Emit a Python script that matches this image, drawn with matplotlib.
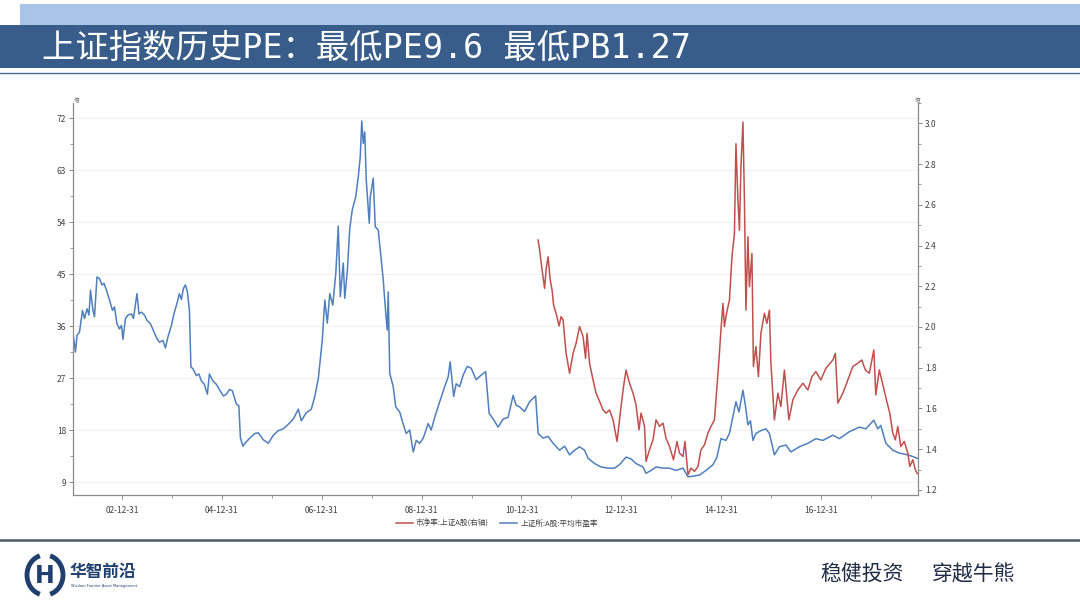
import matplotlib
matplotlib.use('Agg')
import matplotlib.pyplot as plt
import matplotlib.dates as mdates
from matplotlib.patches import Rectangle, Arc
from matplotlib.ticker import MultipleLocator
import pandas as pd

plt.rcParams['font.family'] = ['Noto Sans CJK SC', 'DejaVu Sans']

# 上证所:A股:平均市盈率 (左轴), 时间用小数年
pe_t = [2002.03, 2002.07, 2002.10, 2002.15, 2002.21, 2002.25, 2002.30, 2002.34, 2002.37, 2002.42,
        2002.45, 2002.50, 2002.55, 2002.60, 2002.64, 2002.69, 2002.75, 2002.81, 2002.85, 2002.90,
        2002.95, 2002.99, 2003.02, 2003.07, 2003.12, 2003.19, 2003.23, 2003.30, 2003.34, 2003.39,
        2003.45, 2003.50, 2003.57, 2003.63, 2003.70, 2003.75, 2003.82, 2003.87, 2003.92, 2003.99,
        2004.04, 2004.10, 2004.15, 2004.19, 2004.23, 2004.27, 2004.31, 2004.35, 2004.38, 2004.42,
        2004.49, 2004.54, 2004.59, 2004.65, 2004.71, 2004.75, 2004.82, 2004.89, 2004.95, 2005.03,
        2005.09, 2005.15, 2005.21, 2005.25, 2005.29, 2005.34, 2005.37, 2005.42, 2005.46, 2005.56,
        2005.66, 2005.73, 2005.83, 2005.93, 2006.03, 2006.13, 2006.23, 2006.33, 2006.43, 2006.53,
        2006.59, 2006.69, 2006.79, 2006.86, 2006.93, 2007.01, 2007.06, 2007.11, 2007.16, 2007.22,
        2007.28, 2007.33, 2007.37, 2007.43, 2007.46, 2007.51, 2007.56, 2007.61, 2007.68, 2007.73,
        2007.77, 2007.80, 2007.83, 2007.86, 2007.89, 2007.95, 2007.97, 2008.03, 2008.07, 2008.13,
        2008.17, 2008.23, 2008.28, 2008.31, 2008.33, 2008.36, 2008.43, 2008.48, 2008.56, 2008.63,
        2008.69, 2008.76, 2008.83, 2008.89, 2008.96, 2009.03, 2009.13, 2009.19, 2009.26, 2009.36,
        2009.46, 2009.53, 2009.57, 2009.64, 2009.69, 2009.76, 2009.83, 2009.91, 2009.99, 2010.09,
        2010.19, 2010.28, 2010.35, 2010.43, 2010.53, 2010.63, 2010.73, 2010.83, 2010.89, 2010.96,
        2011.06, 2011.16, 2011.28, 2011.33, 2011.43, 2011.53, 2011.63, 2011.76, 2011.86, 2011.96,
        2012.06, 2012.16, 2012.26, 2012.33, 2012.46, 2012.59, 2012.73, 2012.86, 2012.96, 2013.09,
        2013.19, 2013.29, 2013.43, 2013.49, 2013.59, 2013.69, 2013.83, 2013.96, 2014.09, 2014.23,
        2014.33, 2014.43, 2014.56, 2014.69, 2014.83, 2014.91, 2014.99, 2015.09, 2015.16, 2015.29,
        2015.35, 2015.43, 2015.48, 2015.53, 2015.58, 2015.63, 2015.69, 2015.79, 2015.89, 2015.96,
        2016.06, 2016.16, 2016.29, 2016.39, 2016.56, 2016.73, 2016.89, 2017.03, 2017.23, 2017.36,
        2017.56, 2017.76, 2017.89, 2018.05, 2018.13, 2018.19, 2018.29, 2018.43, 2018.56, 2018.73,
        2018.83, 2018.92]
pe_v = [34.1, 31.5, 34.4, 34.95, 38.7, 37.3, 39.0, 37.9, 42.2, 38.7,
        37.6, 44.5, 44.2, 43.1, 43.4, 42.2, 40.5, 38.7, 39.3, 36.4,
        35.5, 36.1, 33.7, 37.3, 37.9, 38.1, 37.3, 41.6, 38.1, 38.4,
        37.9, 37.0, 36.4, 35.2, 33.8, 33.2, 33.5, 32.2, 34.1, 36.1,
        38.1, 39.9, 41.6, 40.6, 42.5, 43.1, 41.9, 38.7, 28.9, 28.6,
        27.4, 27.7, 26.5, 25.9, 24.2, 27.7, 26.5, 25.9, 25.0, 23.9,
        24.2, 25.0, 24.8, 23.6, 22.5, 22.2, 16.7, 15.2, 15.7, 16.6,
        17.4, 17.5, 16.3, 15.7, 17.1, 17.9, 18.2, 19.0, 19.9, 21.6,
        19.6, 21.0, 21.6, 23.8, 26.9, 33.6, 40.5, 36.5, 41.6, 39.6,
        45.1, 53.3, 41.1, 46.9, 40.8, 45.4, 52.9, 56.1, 58.4, 61.8,
        65.3, 71.5, 67.6, 69.6, 61.3, 53.8, 58.3, 61.6, 53.2, 52.6,
        49.2, 44.0, 38.2, 35.3, 41.9, 27.8, 25.5, 22.0, 21.1, 19.0,
        17.4, 18.0, 14.2, 16.2, 15.7, 16.6, 19.1, 18.0, 20.2, 22.9,
        25.5, 27.2, 29.8, 23.8, 26.0, 25.5, 27.5, 29.0, 28.7, 26.7,
        27.5, 28.1, 20.9, 19.9, 18.5, 19.9, 20.2, 24.0, 22.3, 22.0,
        21.2, 22.9, 23.9, 17.4, 16.6, 16.9, 15.7, 14.5, 15.2, 13.7,
        14.5, 15.1, 14.5, 13.1, 12.2, 11.6, 11.4, 11.4, 12.0, 13.3,
        13.0, 12.2, 11.6, 10.5, 11.0, 11.6, 11.4, 11.4, 11.0, 11.4,
        9.9, 10.0, 10.2, 11.0, 12.0, 13.3, 16.5, 16.2, 17.4, 22.9,
        21.1, 24.9, 22.2, 18.9, 19.6, 16.2, 17.4, 17.9, 18.2, 17.4,
        13.7, 15.1, 15.4, 14.2, 15.1, 15.7, 16.5, 16.2, 17.1, 16.5,
        17.7, 18.5, 18.2, 19.7, 18.2, 18.8, 15.7, 14.5, 14.0, 13.7,
        13.4, 13.1]

# 市净率:上证A股 (右轴)
pb_t = [2011.33, 2011.36, 2011.41, 2011.46, 2011.49, 2011.53, 2011.57, 2011.61, 2011.64, 2011.69,
        2011.75, 2011.79, 2011.83, 2011.89, 2011.96, 2012.03, 2012.09, 2012.16, 2012.23, 2012.28,
        2012.31, 2012.36, 2012.43, 2012.49, 2012.56, 2012.63, 2012.69, 2012.76, 2012.83, 2012.91,
        2012.99, 2013.04, 2013.09, 2013.16, 2013.23, 2013.29, 2013.35, 2013.39, 2013.46, 2013.49,
        2013.56, 2013.63, 2013.69, 2013.76, 2013.83, 2013.89, 2013.96, 2014.04, 2014.11, 2014.16,
        2014.23, 2014.27, 2014.33, 2014.39, 2014.46, 2014.53, 2014.59, 2014.66, 2014.73, 2014.79,
        2014.86, 2014.95, 2014.99, 2015.03, 2015.06, 2015.09, 2015.13, 2015.16, 2015.21, 2015.26,
        2015.29, 2015.33, 2015.36, 2015.39, 2015.43, 2015.46, 2015.49, 2015.53, 2015.56, 2015.61,
        2015.64, 2015.69, 2015.74, 2015.79, 2015.86, 2015.91, 2015.96, 2015.99, 2016.06, 2016.13,
        2016.19, 2016.26, 2016.35, 2016.43, 2016.53, 2016.63, 2016.73, 2016.81, 2016.89, 2016.99,
        2017.09, 2017.23, 2017.28, 2017.33, 2017.43, 2017.53, 2017.63, 2017.73, 2017.81, 2017.88,
        2017.96, 2018.05, 2018.09, 2018.16, 2018.24, 2018.31, 2018.37, 2018.43, 2018.48, 2018.53,
        2018.59, 2018.66, 2018.73, 2018.77, 2018.83, 2018.88, 2018.92]
pb_v = [2.427, 2.378, 2.279, 2.19, 2.284, 2.345, 2.235, 2.181, 2.108, 2.067,
        2.005, 2.051, 2.035, 1.871, 1.773, 1.871, 1.92, 2.002, 1.953, 1.846,
        1.969, 1.822, 1.74, 1.675, 1.635, 1.593, 1.577, 1.593, 1.544, 1.438,
        1.609, 1.707, 1.789, 1.724, 1.675, 1.618, 1.495, 1.577, 1.512, 1.340,
        1.397, 1.446, 1.544, 1.512, 1.528, 1.454, 1.413, 1.348, 1.438, 1.381,
        1.364, 1.438, 1.275, 1.307, 1.291, 1.315, 1.397, 1.421, 1.479, 1.512,
        1.544, 1.838, 1.985, 2.116, 2.002, 2.051, 2.10, 2.132, 2.345, 2.459,
        2.90, 2.623, 2.475, 2.786, 3.006, 2.623, 2.083, 2.443, 2.198, 2.361,
        1.806, 1.904, 1.756, 1.969, 2.067, 2.018, 2.083, 1.822, 1.544, 1.675,
        1.61, 1.789, 1.544, 1.643, 1.691, 1.724, 1.691, 1.756, 1.781, 1.74,
        1.797, 1.838, 1.871, 1.626, 1.675, 1.74, 1.806, 1.822, 1.838, 1.789,
        1.773, 1.887, 1.667, 1.789, 1.707, 1.634, 1.577, 1.479, 1.446, 1.511,
        1.413, 1.438, 1.381, 1.315, 1.348, 1.299, 1.28]

title = '上证指数历史PE：最低PE9.6 最低PB1.27'
pb_label = '市净率:上证A股(右轴)'
pe_label = '上证所:A股:平均市盈率'

BLUE = '#4f7fbc'
RED = '#c0504d'


def to_dates(ts):
    base = pd.Timestamp('2003-01-01')
    return [base + pd.Timedelta(days=(t - 2003) * 365.25) for t in ts]


fig = plt.figure(figsize=(10.8, 6.07), dpi=100)

# 背景层（像素坐标）
bg = fig.add_axes([0, 0, 1, 1], zorder=0)
bg.set_xlim(0, 1080)
bg.set_ylim(607, 0)
bg.axis('off')
bg.add_patch(Rectangle((20, 4), 1060, 21, color='#a8c4e8', lw=0))
bg.add_patch(Rectangle((0, 25), 1080, 43, color='#385d8a', lw=0))
bg.plot([0, 1080], [73, 73], color='#4a6b8f', lw=1)
bg.text(42, 48, title, color='white', fontsize=24, va='center', ha='left',
        family=['DejaVu Sans Mono', 'Noto Sans CJK SC'])

bg.plot([0, 1080], [540, 540], color='#4d5b6a', lw=1.8)
# logo
bg.add_patch(Arc((45, 575), 36, 40, theta1=105, theta2=255, color='#1f3f6e', lw=3.5))
bg.add_patch(Arc((45, 575), 36, 40, theta1=-75, theta2=75, color='#1f3f6e', lw=3.5))
bg.text(45, 576, 'H', color='#1f3f6e', fontsize=17, fontweight='bold',
        ha='center', va='center', family='DejaVu Sans Condensed')
bg.text(70, 572, '华智前沿', color='#1f3f6e', fontsize=12, fontweight='bold',
        ha='left', va='center')
bg.text(71, 586, 'Wisdom Frontier Asset Management', color='#1f3f6e', fontsize=2.6,
        ha='left', va='center', family='DejaVu Sans')
bg.text(820, 575, '稳健投资', color='#1e2c44', fontsize=15, ha='left', va='center')
bg.text(932, 575, '穿越牛熊', color='#1e2c44', fontsize=15, ha='left', va='center')

# 图表
ax = fig.add_axes([73 / 1080, 1 - 495 / 607, (918 - 73) / 1080, (495 - 103) / 607], zorder=1)
ax.patch.set_alpha(0)
ax2 = ax.twinx()

ax.plot(to_dates(pe_t), pe_v, color=BLUE, lw=1.1, label=pe_label)
ax2.plot(to_dates(pb_t), pb_v, color=RED, lw=1.1, label=pb_label)

ax.set_xlim(pd.Timestamp('2002-01-08'), pd.Timestamp('2018-12-08'))
ax.set_ylim(6.75, 74.6)
ax2.set_ylim(1.175, 3.1)

ax.yaxis.set_major_locator(MultipleLocator(9))
ax.yaxis.set_minor_locator(MultipleLocator(4.5))
ax2.yaxis.set_major_locator(MultipleLocator(0.2))
ax2.yaxis.set_minor_locator(MultipleLocator(0.1))
ax2.yaxis.set_major_formatter(plt.FuncFormatter(lambda v, p: f'{v:.1f}'))

major_dates = [pd.Timestamp(f'{y}-12-31') for y in range(2002, 2018, 2)]
minor_dates = [pd.Timestamp(f'{y}-12-31') for y in range(2003, 2018, 2)]
ax.set_xticks(major_dates)
ax.set_xticks(minor_dates, minor=True)
ax.xaxis.set_major_formatter(mdates.DateFormatter('%y-%m-%d'))

ax.grid(axis='y', color='#f0f0f0', lw=0.8)
ax.set_axisbelow(True)

for a in (ax, ax2):
    for s in a.spines.values():
        s.set_color('#8a8a8a')
        s.set_linewidth(0.8)
    a.spines['top'].set_visible(False)
    a.tick_params(which='major', length=3, width=0.7, color='#8a8a8a',
                  labelsize=6, labelcolor='#404040', pad=2)
    a.tick_params(which='minor', length=2, width=0.6, color='#8a8a8a')
ax.tick_params(axis='x', pad=5)

# 轴顶端单位
bg.text(77, 101, '倍', fontsize=4, color='#606060', ha='center', va='center')
bg.text(918, 101, '倍', fontsize=4, color='#606060', ha='center', va='center')

h1, l1 = ax2.get_legend_handles_labels()
h2, l2 = ax.get_legend_handles_labels()
fig.legend(h1 + h2, l1 + l2, loc='center', bbox_to_anchor=(497 / 1080, 1 - 524 / 607),
           ncol=2, frameon=False, fontsize=5.5, handlelength=2.2, columnspacing=1.5,
           handletextpad=0.4, labelcolor='#404040')

fig.savefig('out.png', dpi=100)
